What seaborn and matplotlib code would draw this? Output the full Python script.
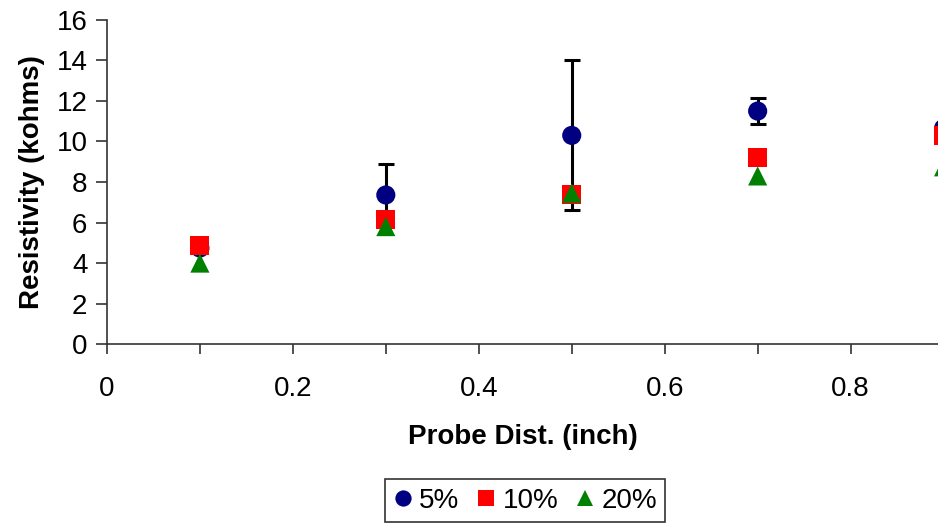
import numpy as np
import pandas as pd
import matplotlib
matplotlib.use("Agg")
import matplotlib.pyplot as plt
import seaborn as sns
from matplotlib.ticker import MultipleLocator

# Probe spacing (inch) and measured resistivity (kohms) per mix
probe_dist = [0.1, 0.3, 0.5, 0.7, 0.9]
res_5 = [4.74, 7.36, 10.3, 11.5, 10.65]
res_10 = [4.86, 6.17, 7.4, 9.19, 10.3]
res_20 = [4.0, 5.8, 7.45, 8.3, 8.75]
err_5 = [0.0, 1.53, 3.7, 0.63, 0.0]
series_labels = ["5%", "10%", "20%"]

df = pd.DataFrame({
    "dist": probe_dist * 3,
    "res": res_5 + res_10 + res_20,
    "mix": [series_labels[0]] * 5 + [series_labels[1]] * 5 + [series_labels[2]] * 5,
})

sns.set_style("white")
plt.rcParams["font.family"] = ["Liberation Sans", "DejaVu Sans"]
plt.rcParams["text.color"] = "black"
plt.rcParams["axes.labelcolor"] = "black"
plt.rcParams["xtick.labelcolor"] = "black"
plt.rcParams["ytick.labelcolor"] = "black"

fig = plt.figure(figsize=(9.38, 5.23), dpi=100)
ax = fig.add_axes([0.114, 0.342, 0.886, 0.620])

# error bars for the 5% series, drawn underneath the markers
ax.errorbar(probe_dist, res_5, yerr=err_5, fmt="none", ecolor="black",
            elinewidth=2.2, capsize=6, capthick=2.2, zorder=1)

palette = {"5%": "#000080", "10%": "#FF0000", "20%": "#008000"}
markers = {"5%": "o", "10%": "s", "20%": "^"}
sns.scatterplot(data=df, x="dist", y="res", hue="mix", style="mix",
                palette=palette, markers=markers, s=190, edgecolor="none",
                linewidth=0, ax=ax, zorder=3, legend=True)

ax.set_xlim(0, 0.894)
ax.set_ylim(0, 16)
ax.xaxis.set_major_locator(MultipleLocator(0.2))
ax.xaxis.set_minor_locator(MultipleLocator(0.1))
ax.yaxis.set_major_locator(MultipleLocator(2))
ax.xaxis.set_major_formatter(matplotlib.ticker.FuncFormatter(
    lambda v, p: "0" if abs(v) < 1e-9 else f"{v:.1f}"))

for s in ["top", "right"]:
    ax.spines[s].set_visible(False)
for s in ["left", "bottom"]:
    ax.spines[s].set_color("#333333")
    ax.spines[s].set_linewidth(1.2)

ax.tick_params(axis="y", which="major", direction="out", length=8, width=1.2,
               labelsize=20, pad=6, left=True, color="#333333", labelcolor="black")
ax.tick_params(axis="x", which="both", direction="out", length=7, width=1.2,
               labelsize=20, pad=16, bottom=True, color="#333333", labelcolor="black")

ax.set_xlabel("Probe Dist. (inch)", fontsize=20, fontweight="bold", labelpad=16,
              color="black")
ax.set_ylabel("Resistivity (kohms)", fontsize=20, fontweight="bold", labelpad=8,
              color="black")

handles, labels = ax.get_legend_handles_labels()
leg = ax.legend(handles, labels, loc="center", bbox_to_anchor=(0.503, -0.483),
                ncol=3, frameon=True, fontsize=20, handlelength=0.7,
                handletextpad=0.25, columnspacing=0.6, borderpad=0.3,
                borderaxespad=0, markerscale=0.85,
                fancybox=False, edgecolor="black", labelcolor="black")
leg.get_frame().set_linewidth(1.2)

fig.savefig("out.png", dpi=100)
